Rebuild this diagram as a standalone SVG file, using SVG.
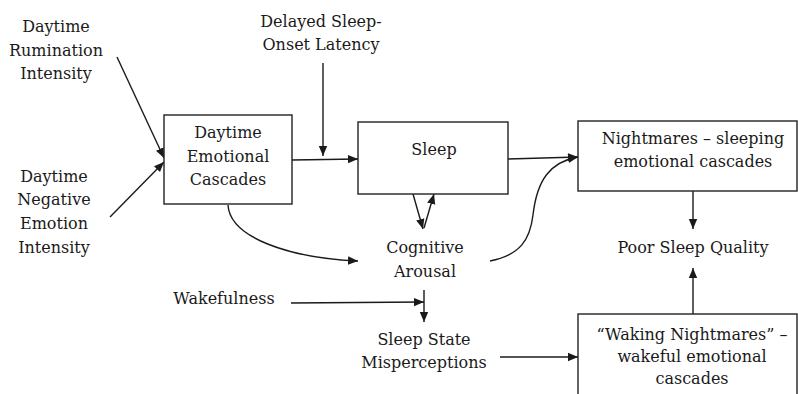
<svg xmlns="http://www.w3.org/2000/svg" width="798" height="394" viewBox="0 0 798 394">
<style>
text{font-family:"DejaVu Serif","Liberation Serif",serif;font-size:16px;fill:#1a1a1a;text-anchor:middle}
.box{fill:#fff;stroke:#222;stroke-width:1.4}
.c{fill:none;stroke:#1a1a1a;stroke-width:1.4}
</style>
<defs>
<marker id="ah" viewBox="0 0 10 10" refX="10" refY="5" markerWidth="10" markerHeight="10" markerUnits="userSpaceOnUse" orient="auto">
<path d="M0,0.8 L10,5 L0,9.2 Z" fill="#1a1a1a"/>
</marker>
</defs>
<rect width="798" height="394" fill="#fff"/>
<g id="connectors">
<path class="c" d="M117,57 L164,158" marker-end="url(#ah)"/>
<path class="c" d="M110,217 L164,162" marker-end="url(#ah)"/>
<path class="c" d="M292,160 L358,159" marker-end="url(#ah)"/>
<path class="c" d="M323,63 L323,156" marker-end="url(#ah)"/>
<path class="c" d="M508,159 L578,157" marker-end="url(#ah)"/>
<path class="c" d="M490,261 C520,255 530,240 533,215 C537,180 550,162 578,157" marker-end="url(#ah)"/>
<path class="c" d="M413,194 L423,229" marker-end="url(#ah)"/>
<path class="c" d="M424,228 L434,194" marker-end="url(#ah)"/>
<path class="c" d="M228,205 C230,238 290,258 358,261" marker-end="url(#ah)"/>
<path class="c" d="M291,303 L424,302" marker-end="url(#ah)"/>
<path class="c" d="M424,290 L424,322" marker-end="url(#ah)"/>
<path class="c" d="M500,357 L578,357" marker-end="url(#ah)"/>
<path class="c" d="M693,191 L693,229" marker-end="url(#ah)"/>
<path class="c" d="M693,314 L693,268" marker-end="url(#ah)"/>
</g>
<g id="rumination"><text x="56" y="32">Daytime</text><text x="56" y="56">Rumination</text><text x="56" y="79">Intensity</text></g>
<g id="negative"><text x="54" y="182">Daytime</text><text x="54" y="205">Negative</text><text x="54" y="229">Emotion</text><text x="54" y="253">Intensity</text></g>
<g id="delayed"><text x="321" y="27">Delayed Sleep-</text><text x="321" y="50">Onset Latency</text></g>
<g id="daytime-cascades"><rect class="box" x="164" y="115" width="128" height="89"/><text x="228" y="138">Daytime</text><text x="228" y="162">Emotional</text><text x="228" y="185">Cascades</text></g>
<g id="sleep"><rect class="box" x="358" y="122" width="150" height="72"/><text x="434" y="155">Sleep</text></g>
<g id="nightmares"><rect class="box" x="578" y="121" width="219" height="70"/><text x="693" y="144">Nightmares – sleeping</text><text x="693" y="167">emotional cascades</text></g>
<g id="cognitive"><text x="425" y="253">Cognitive</text><text x="425" y="277">Arousal</text></g>
<g id="poor"><text x="693" y="253">Poor Sleep Quality</text></g>
<g id="wakefulness"><text x="224" y="304">Wakefulness</text></g>
<g id="misperceptions"><text x="424" y="345">Sleep State</text><text x="424" y="368">Misperceptions</text></g>
<g id="waking"><rect class="box" x="578" y="314" width="219" height="90"/><text x="692" y="340">“Waking Nightmares” –</text><text x="692" y="362">wakeful emotional</text><text x="692" y="384">cascades</text></g>
</svg>
